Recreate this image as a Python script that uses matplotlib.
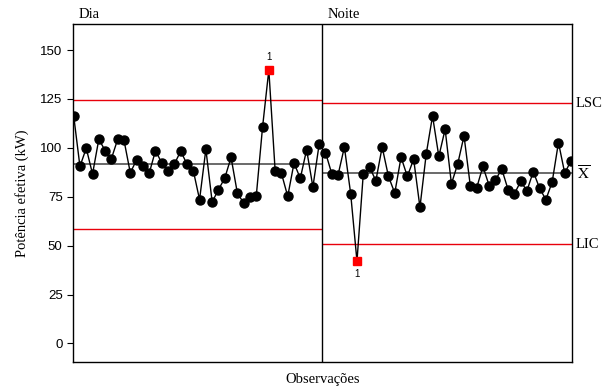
import numpy as np
from matplotlib import pyplot as plt

plt.rcParams['mathtext.fontset'] = 'stix'

# potencia efetiva (kW) - 40 observacoes de dia e 40 de noite
dia = [116.5, 90.5, 99.8, 86.6, 104.4, 98.6, 94.5, 104.4, 103.8, 87.2,
       93.9, 90.8, 87.0, 98.6, 92.2, 88.4, 91.7, 98.3, 91.7, 88.4,
       73.5, 99.3, 72.3, 78.6, 84.5, 95.1, 76.9, 71.8, 74.8, 75.2,
       110.5, 139.8, 88.4, 87.0, 75.2, 92.2, 84.4, 99.0, 80.0, 102.0]
noite = [97.6, 86.7, 86.2, 100.4, 76.5, 42.0, 86.7, 90.1, 83.2, 100.4,
         85.4, 76.9, 95.2, 85.4, 94.2, 69.6, 96.9, 116.3, 95.6, 109.5,
         81.6, 91.8, 106.1, 80.6, 79.4, 90.5, 80.6, 83.7, 89.1, 78.6,
         76.5, 82.8, 78.1, 87.8, 79.4, 73.5, 82.5, 102.7, 87.0, 93.5]

# limites de controle (LIC, media, LSC) de cada fase
lim_dia = [58.6, 91.6, 124.7]
lim_noite = [50.8, 86.9, 122.8]

yticks = [0, 25, 50, 75, 100, 125, 150]

fig = plt.figure(figsize=(6.1, 3.89), dpi=100)
ax = fig.add_axes([0.1197, 0.0694, 0.8180, 0.8689])

n1 = len(dia)
n2 = len(noite)
x1 = np.arange(1, n1 + 1)
x2 = np.arange(n1 + 1, n1 + n2 + 1)
split = n1 + 0.5

for x, y, lim, x0, x1e in [(x1, dia, lim_dia, 0.0, split),
                          (x2, noite, lim_noite, split, n1 + n2 + 1)]:
    ax.hlines([lim[0], lim[2]], x0, x1e, colors='#e8000b', lw=1.0, zorder=1)
    ax.hlines(lim[1], x0, x1e, colors='#505050', lw=1.2, zorder=1)
    y = np.array(y)
    fora = (y > lim[2]) | (y < lim[0])
    ax.plot(x, y, color='black', lw=1.0, zorder=3)
    ax.plot(x[~fora], y[~fora], 'o', color='black', ms=6.5, zorder=3)
    ax.plot(x[fora], y[fora], 's', color='#ff0000', ms=5.5, zorder=4)
    for xi, yi in zip(x[fora], y[fora]):
        if yi > lim[2]:
            ax.text(xi, yi + 4, '1', ha='center', va='bottom', fontsize=7,
                    family='Liberation Sans')
        else:
            ax.text(xi, yi - 4, '1', ha='center', va='top', fontsize=7,
                    family='Liberation Sans')

ax.axvline(split, color='black', lw=1.0, zorder=2)

ax.set_xlim(0.9, 80.15)
ax.set_ylim(-9.5, 163.3)
ax.set_xticks([])
ax.set_yticks(yticks)
ax.tick_params(axis='y', direction='out', length=4, labelsize=9.5)
for lab in ax.get_yticklabels():
    lab.set_family('Liberation Sans')
for s in ax.spines.values():
    s.set_linewidth(1.0)

serif = 'Liberation Serif'
ax.text(1.8, 165.0, 'Dia', fontsize=10.5, family=serif, va='bottom')
ax.text(41.3, 165.0, 'Noite', fontsize=10.5, family=serif, va='bottom')
ax.text(80.8, lim_noite[2], 'LSC', fontsize=10.5, family=serif, va='center')
ax.text(80.8, lim_noite[0], 'LIC', fontsize=10.5, family=serif, va='center')
ax.text(80.9, lim_noite[1], r'$\overline{\mathrm{X}}$', fontsize=11, va='center')

ax.set_xlabel('Observações', fontsize=10.5, family=serif, labelpad=8)
ax.set_ylabel('Potência efetiva (kW)', fontsize=10.5, family=serif, labelpad=8)

plt.savefig('out.png', dpi=100)
